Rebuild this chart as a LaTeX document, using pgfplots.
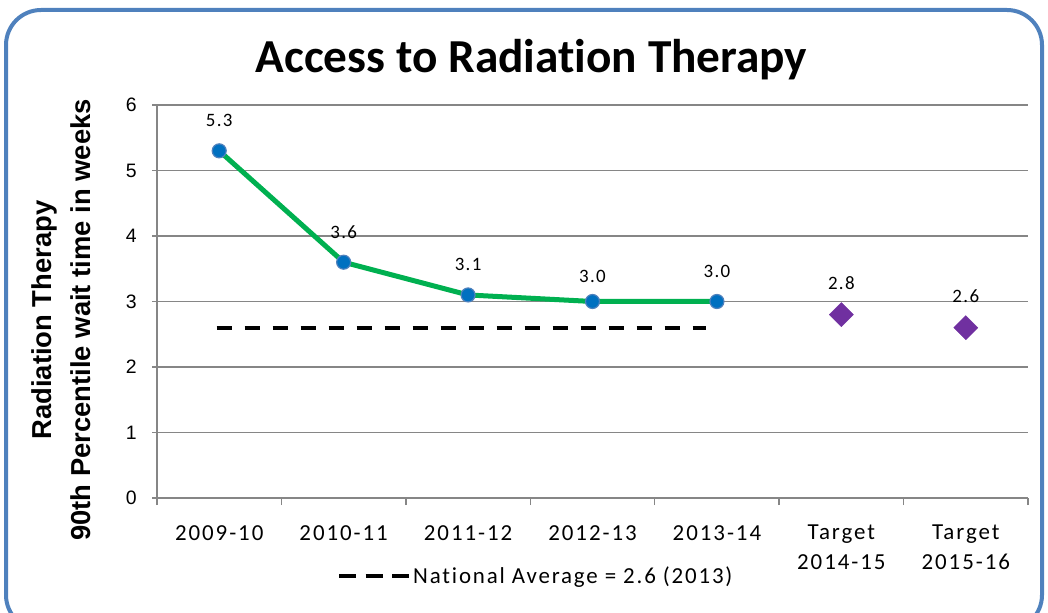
\documentclass[border=0pt]{standalone}
\usepackage{pgfplots}
\pgfplotsset{compat=1.18}
\usepackage{fontspec}
\setmainfont{Carlito}[Ligatures=NoCommon]
\newfontfamily\titlefont{Carlito}[Ligatures=NoCommon]
\newfontfamily\xlab{Carlito}[LetterSpace=8.5, Ligatures=NoCommon]
\newfontfamily\dlab{Carlito}[LetterSpace=7]
\newfontfamily\leg{Carlito}[LetterSpace=8, Ligatures=NoCommon]
\newfontfamily\arial{Liberation Sans}
\newcommand\yt[1]{{\arial\fontsize{19.5}{21}\selectfont #1}}
\definecolor{frameblue}{HTML}{4F81BD}
\definecolor{lgreen}{HTML}{00B050}
\definecolor{mblue}{HTML}{0070C0}
\definecolor{mpurple}{HTML}{7030A0}
\definecolor{gridgray}{HTML}{868686}
\begin{document}
\begin{tikzpicture}
\useasboundingbox (0bp,0bp) rectangle (1048bp,613bp);
\draw[frameblue, line width=4bp, rounded corners=35bp] (6bp,-17bp) rectangle (1042bp,603bp);
\node[anchor=base, font=\titlefont\bfseries\fontsize{47.5}{50}\selectfont, inner sep=0pt] at (531.5bp,540bp) {Access to Radiation Therapy};
\node[rotate=90, anchor=base, inner sep=0pt, font=\arial\bfseries\fontsize{27.5}{30}\selectfont] at (51bp,293bp) {Radiation Therapy};
\node[rotate=90, anchor=base, inner sep=0pt, font=\arial\bfseries\fontsize{27.5}{30}\selectfont] at (90bp,293bp) {90th Percentile wait time in weeks};
\begin{axis}[
  at={(157bp,115bp)}, anchor=south west,
  width=871bp, height=393bp, scale only axis,
  xmin=-0.5, xmax=6.5, ymin=0, ymax=6,
  axis x line*=bottom, axis y line*=left,
  axis line style={-, gridgray, line width=1.3bp},
  every outer x axis line/.append style={-},
  every outer y axis line/.append style={-},
  ytick={0,1,2,3,4,5,6},
  yticklabels={\yt{0},\yt{1},\yt{2},\yt{3},\yt{4},\yt{5},\yt{6}},
  ymajorgrids,
  grid style={gridgray, line width=1.3bp},
  tick style={gridgray, line width=1.3bp},
  tick align=outside,
  major tick length=5bp,
  minor tick length=7bp,
  xtick={0,1,2,3,4,5,6},
  xticklabels={2009-10,2010-11,2011-12,2012-13,2013-14,{Target\\2014-15},{Target\\2015-16}},
  minor xtick={-0.5,0.5,1.5,2.5,3.5,4.5,5.5,6.5},
  major x tick style={draw=none},
  /pgf/number format/assume math mode=true,
  y tick label style={inner sep=0pt, anchor=east, xshift=-15bp},
  x tick label style={font=\xlab\fontsize{23}{30}\selectfont, inner sep=0pt, anchor=north, align=center, yshift=-22bp},
  legend style={at={(0.2067,-0.1985)}, anchor=west, draw=none, fill=none, inner sep=0pt,
    font=\leg\fontsize{23}{26}\selectfont},
  legend image code/.code={\draw[black, line width=4bp, dash pattern=on 17bp off 9.5bp] (0bp,0bp) -- (70bp,0bp);},
  clip=false,
]
\addplot[black, line width=4bp, dash pattern=on 15bp off 13bp] coordinates {(-0.02,2.6) (3.91,2.6)};
\addlegendentry{National Average = 2.6 (2013)}
\addplot[lgreen, line width=5bp, mark=*, mark size=7bp,
  mark options={fill=mblue, draw=frameblue, line width=1.2bp, solid},
  nodes near coords={\pgfmathprintnumber[fixed, fixed zerofill, precision=1, assume math mode=true]{\pgfplotspointmeta}},
  every node near coord/.append style={anchor=base, inner sep=0pt, yshift=24bp, black, font=\dlab\fontsize{19}{20}\selectfont},
  coordinate style/.condition={x==3}{yshift=-5bp},
  forget plot] coordinates {(0,5.3) (1,3.6) (2,3.1) (3,3.0) (4,3.0)};
\addplot[only marks, mark=square*, mark size=8.5bp,
  mark options={rotate=45, fill=mpurple, draw=mpurple},
  nodes near coords={\pgfmathprintnumber[fixed, fixed zerofill, precision=1, assume math mode=true]{\pgfplotspointmeta}},
  every node near coord/.append style={anchor=base, inner sep=0pt, yshift=25bp, black, font=\dlab\fontsize{19}{20}\selectfont},
  forget plot] coordinates {(5,2.8) (6,2.6)};
\end{axis}
\end{tikzpicture}
\end{document}
